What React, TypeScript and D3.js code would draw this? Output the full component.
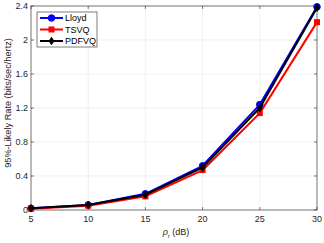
import React, { useEffect, useRef } from 'react';
import * as d3 from 'd3';

const snr = [5, 10, 15, 20, 25, 30];
const lloyd = [0.02, 0.06, 0.19, 0.52, 1.24, 2.39];
const tsvq = [0.015, 0.05, 0.16, 0.47, 1.14, 2.21];
const pdfvq = [0.02, 0.06, 0.18, 0.5, 1.2, 2.38];
const yTicks = [0, 0.4, 0.8, 1.2, 1.6, 2, 2.4];
const xTicks = [5, 10, 15, 20, 25, 30];

const series = [
  { name: 'Lloyd', vals: lloyd, color: '#0000ff', marker: 'circle' },
  { name: 'TSVQ', vals: tsvq, color: '#ff0000', marker: 'square' },
  { name: 'PDFVQ', vals: pdfvq, color: '#000000', marker: 'diamond' },
];

const W = 324, H = 243;
const L = 31, R = 317, T = 6, B = 210;
const font = 'Liberation Sans, Arial, sans-serif';

export default function App() {
  const ref = useRef<SVGSVGElement>(null);

  useEffect(() => {
    const svg = d3.select(ref.current);
    svg.selectAll('*').remove();

    const x = d3.scaleLinear().domain([5, 30]).range([L, R]);
    const y = d3.scaleLinear().domain([0, 2.4]).range([B, T]);

    svg.append('rect').attr('width', W).attr('height', H).attr('fill', '#fff');

    // grid
    const g = svg.append('g');
    xTicks.forEach(t => {
      g.append('line').attr('x1', x(t)).attr('x2', x(t)).attr('y1', T).attr('y2', B)
        .attr('stroke', '#e6e6e6').attr('stroke-width', 0.6);
    });
    yTicks.forEach(t => {
      g.append('line').attr('x1', L).attr('x2', R).attr('y1', y(t)).attr('y2', y(t))
        .attr('stroke', '#e6e6e6').attr('stroke-width', 0.6);
    });

    // box
    svg.append('rect').attr('x', L).attr('y', T).attr('width', R - L).attr('height', B - T)
      .attr('fill', 'none').attr('stroke', '#262626').attr('stroke-width', 0.6);

    // ticks
    xTicks.forEach(t => {
      svg.append('line').attr('x1', x(t)).attr('x2', x(t)).attr('y1', B).attr('y2', B - 3)
        .attr('stroke', '#262626').attr('stroke-width', 0.6);
      svg.append('line').attr('x1', x(t)).attr('x2', x(t)).attr('y1', T).attr('y2', T + 3)
        .attr('stroke', '#262626').attr('stroke-width', 0.6);
      svg.append('text').attr('x', x(t)).attr('y', B + 12).attr('text-anchor', 'middle')
        .attr('font-size', 9).attr('font-family', font).attr('fill', '#262626').text(t);
    });
    yTicks.forEach(t => {
      svg.append('line').attr('x1', L).attr('x2', L + 3).attr('y1', y(t)).attr('y2', y(t))
        .attr('stroke', '#262626').attr('stroke-width', 0.6);
      svg.append('line').attr('x1', R).attr('x2', R - 3).attr('y1', y(t)).attr('y2', y(t))
        .attr('stroke', '#262626').attr('stroke-width', 0.6);
      svg.append('text').attr('x', L - 3).attr('y', y(t) + 3).attr('text-anchor', 'end')
        .attr('font-size', 9).attr('font-family', font).attr('fill', '#262626').text(t);
    });

    // axis labels
    svg.append('text').attr('transform', `translate(11,103) rotate(-90)`)
      .attr('text-anchor', 'middle').attr('font-size', 9.2).attr('font-family', font)
      .attr('fill', '#262626').text('95%-Likely Rate (bits/sec/hertz)');
    const xl = svg.append('text').attr('x', 176).attr('y', 235)
      .attr('text-anchor', 'middle').attr('font-size', 9).attr('font-family', font).attr('fill', '#262626');
    xl.append('tspan').attr('font-style', 'italic').text('ρ');
    xl.append('tspan').attr('font-size', 6).attr('dy', 2.5).text('r');
    xl.append('tspan').attr('dy', -2.5).text(' (dB)');

    const line = d3.line<number>().x((d, i) => x(snr[i])).y(d => y(d));

    const drawMarker = (sel: any, m: string, cx: number, cy: number, c: string, s: number) => {
      if (m === 'circle') sel.append('circle').attr('cx', cx).attr('cy', cy).attr('r', s * 0.55).attr('fill', c).attr('stroke', c);
      else if (m === 'square') sel.append('rect').attr('x', cx - s / 2).attr('y', cy - s / 2).attr('width', s).attr('height', s).attr('fill', c);
      else sel.append('path').attr('d', `M${cx},${cy - s * 0.7}L${cx + s * 0.5},${cy}L${cx},${cy + s * 0.7}L${cx - s * 0.5},${cy}Z`).attr('fill', c);
    };

    series.forEach(s => {
      const sg = svg.append('g');
      sg.append('path').attr('d', line(s.vals)).attr('fill', 'none').attr('stroke', s.color).attr('stroke-width', 2);
      s.vals.forEach((v, i) => drawMarker(sg, s.marker, x(snr[i]), y(v), s.color, 6));
    });

    // legend
    const lg = svg.append('g');
    lg.append('rect').attr('x', 37).attr('y', 12).attr('width', 60).attr('height', 35)
      .attr('fill', '#fff').attr('stroke', '#262626').attr('stroke-width', 0.6);
    series.forEach((s, i) => {
      const yy = 18 + i * 11.5;
      lg.append('line').attr('x1', 40).attr('x2', 63).attr('y1', yy).attr('y2', yy)
        .attr('stroke', s.color).attr('stroke-width', 2);
      drawMarker(lg, s.marker, 51.5, yy, s.color, 6);
      lg.append('text').attr('x', 65).attr('y', yy + 3).attr('font-size', 9)
        .attr('font-family', font).attr('fill', '#000').text(s.name);
    });
  }, []);

  return <svg ref={ref} width={W} height={H} style={{ display: 'block', position: 'absolute', left: 0, top: 0 }} />;
}
